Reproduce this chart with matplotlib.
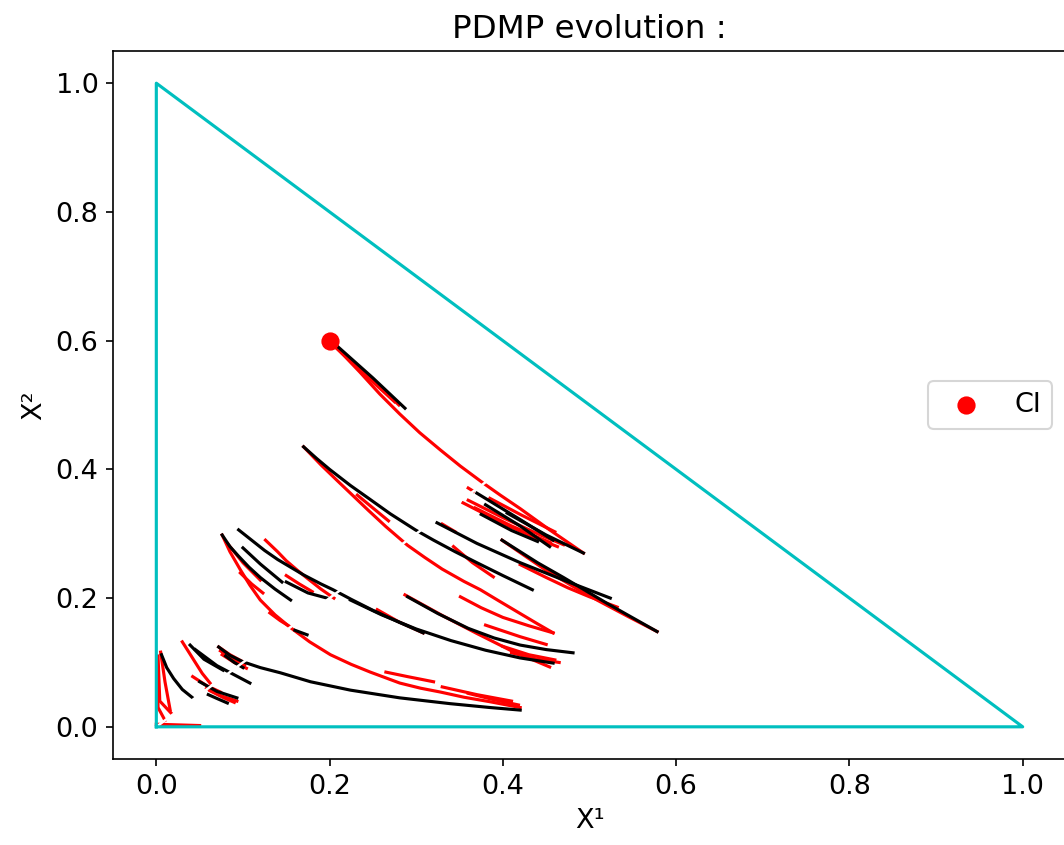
import numpy as np
import matplotlib
matplotlib.use("Agg")
import matplotlib.pyplot as plt

plt.rcParams["font.size"] = 13

# simplex border and the initial condition
simplex_x = [0.0, 1.0, 0.0, 0.0]
simplex_y = [0.0, 0.0, 1.0, 0.0]
ci_x, ci_y = [0.2], [0.6]
diag_x = [0.0, 0.5]
diag_y = [0.0, 0.5]

# trajectory pieces, (x, y) points per piece
red_paths = [
    # from the CI
    [(0.200, 0.600), (0.218, 0.575), (0.235, 0.551), (0.258, 0.517), (0.281, 0.486), (0.304, 0.457),
     (0.328, 0.430), (0.351, 0.405), (0.377, 0.379), (0.397, 0.360), (0.420, 0.339), (0.454, 0.306), (0.493, 0.270)],
    [(0.205, 0.592), (0.24, 0.548), (0.275, 0.505)],
    [(0.215, 0.580), (0.25, 0.538), (0.28, 0.500)],
    [(0.170, 0.435), (0.19, 0.407), (0.21, 0.381), (0.224, 0.363), (0.245, 0.336), (0.265, 0.311), (0.290, 0.282),
     (0.31, 0.263), (0.33, 0.245), (0.355, 0.226), (0.374, 0.213), (0.395, 0.196), (0.42, 0.176), (0.44, 0.160), (0.458, 0.146)],
    [(0.399, 0.290), (0.425, 0.266), (0.45, 0.243), (0.48, 0.219), (0.51, 0.196), (0.545, 0.171), (0.578, 0.148)],
    [(0.420, 0.252), (0.45, 0.232), (0.475, 0.216), (0.50, 0.202), (0.532, 0.186)],
    [(0.343, 0.280), (0.365, 0.255), (0.389, 0.233)],
    [(0.354, 0.348), (0.38, 0.330), (0.41, 0.310), (0.435, 0.295), (0.463, 0.280)],
    [(0.360, 0.352), (0.40, 0.325), (0.44, 0.300), (0.47, 0.283)],
    [(0.368, 0.340), (0.41, 0.312), (0.455, 0.286)],
    [(0.385, 0.355), (0.42, 0.330), (0.46, 0.303)],
    [(0.360, 0.371), (0.366, 0.366)],
    [(0.330, 0.315), (0.345, 0.303)],
    [(0.232, 0.360), (0.25, 0.340), (0.268, 0.320)],
    [(0.351, 0.202), (0.375, 0.185), (0.40, 0.170), (0.43, 0.157), (0.458, 0.146)],
    [(0.287, 0.205), (0.33, 0.173), (0.37, 0.145), (0.41, 0.118), (0.454, 0.093)],
    [(0.255, 0.182), (0.28, 0.163), (0.308, 0.146)],
    [(0.40, 0.125), (0.43, 0.112), (0.46, 0.104)],
    [(0.41, 0.115), (0.44, 0.105), (0.465, 0.100)],
    [(0.38, 0.158), (0.42, 0.140), (0.45, 0.128)],
    # lower left family
    [(0.076, 0.298), (0.085, 0.272), (0.097, 0.244), (0.108, 0.220), (0.120, 0.197), (0.137, 0.174), (0.155, 0.154),
     (0.177, 0.132), (0.201, 0.112), (0.225, 0.097), (0.247, 0.085), (0.281, 0.068), (0.305, 0.060), (0.328, 0.054),
     (0.355, 0.046), (0.385, 0.039), (0.420, 0.030)],
    [(0.126, 0.290), (0.14, 0.272), (0.15, 0.258), (0.163, 0.243), (0.175, 0.230), (0.19, 0.214), (0.205, 0.200)],
    [(0.082, 0.285), (0.10, 0.255), (0.12, 0.228)],
    [(0.097, 0.239), (0.11, 0.222), (0.123, 0.208)],
    [(0.131, 0.177), (0.143, 0.165), (0.155, 0.155)],
    [(0.150, 0.235), (0.165, 0.222), (0.18, 0.210)],
    [(0.265, 0.085), (0.29, 0.078), (0.32, 0.070)],
    [(0.33, 0.062), (0.37, 0.050), (0.41, 0.040)],
    [(0.36, 0.052), (0.39, 0.042), (0.418, 0.034)],
    [(0.030, 0.132), (0.038, 0.115), (0.045, 0.100), (0.053, 0.083), (0.062, 0.068)],
    [(0.072, 0.124), (0.085, 0.112), (0.100, 0.101)],
    [(0.074, 0.118), (0.09, 0.105), (0.102, 0.096)],
    [(0.076, 0.112), (0.09, 0.100), (0.104, 0.091)],
    [(0.042, 0.078), (0.058, 0.064), (0.074, 0.054)],
    [(0.058, 0.060), (0.075, 0.048), (0.093, 0.040)],
    [(0.062, 0.056), (0.078, 0.045), (0.090, 0.038)],
    [(0.005, 0.116), (0.010, 0.070), (0.016, 0.026)],
    [(0.002, 0.110), (0.004, 0.040), (0.018, 0.020)],
    [(0.001, 0.100), (0.002, 0.030), (0.010, 0.010)],
    [(0.000, 0.004), (0.025, 0.003), (0.050, 0.002)],
]

black_paths = [
    [(0.210, 0.590), (0.25, 0.542), (0.287, 0.495)],
    [(0.170, 0.435), (0.185, 0.417), (0.20, 0.400), (0.224, 0.375), (0.245, 0.355), (0.27, 0.331), (0.299, 0.306),
     (0.32, 0.290), (0.345, 0.272), (0.37, 0.255), (0.40, 0.235), (0.434, 0.213)],
    [(0.324, 0.317), (0.37, 0.285), (0.42, 0.255), (0.47, 0.228), (0.524, 0.200)],
    [(0.399, 0.290), (0.44, 0.255), (0.47, 0.232), (0.52, 0.192), (0.578, 0.148)],
    [(0.370, 0.363), (0.42, 0.322), (0.458, 0.290)],
    [(0.405, 0.332), (0.45, 0.298), (0.493, 0.270)],
    [(0.380, 0.345), (0.42, 0.312), (0.454, 0.280)],
    [(0.375, 0.330), (0.41, 0.305), (0.44, 0.288)],
    [(0.290, 0.202), (0.325, 0.176), (0.36, 0.153), (0.39, 0.138), (0.42, 0.127), (0.45, 0.120), (0.481, 0.115)],
    [(0.224, 0.197), (0.26, 0.174), (0.30, 0.152), (0.34, 0.134), (0.38, 0.119), (0.42, 0.107), (0.458, 0.099)],
    [(0.095, 0.306), (0.11, 0.290), (0.125, 0.274), (0.14, 0.260), (0.155, 0.248), (0.17, 0.236), (0.19, 0.222),
     (0.204, 0.213), (0.225, 0.198), (0.25, 0.181), (0.281, 0.162), (0.308, 0.146)],
    [(0.076, 0.298), (0.085, 0.280), (0.095, 0.265), (0.107, 0.248), (0.12, 0.232), (0.137, 0.214), (0.155, 0.197)],
    [(0.100, 0.278), (0.12, 0.253), (0.145, 0.225)],
    [(0.150, 0.225), (0.175, 0.208), (0.197, 0.200)],
    [(0.160, 0.150), (0.168, 0.146), (0.174, 0.143)],
    [(0.039, 0.127), (0.055, 0.105), (0.077, 0.088)],
    [(0.045, 0.120), (0.07, 0.095), (0.108, 0.068)],
    [(0.080, 0.110), (0.09, 0.100), (0.100, 0.092)],
    [(0.072, 0.124), (0.085, 0.111), (0.100, 0.101), (0.12, 0.092), (0.143, 0.084), (0.178, 0.070), (0.224, 0.057),
     (0.281, 0.045), (0.339, 0.036), (0.385, 0.030), (0.420, 0.026)],
    [(0.050, 0.070), (0.07, 0.055), (0.093, 0.045)],
    [(0.060, 0.050), (0.07, 0.044), (0.082, 0.037)],
    [(0.006, 0.112), (0.012, 0.092), (0.02, 0.075), (0.03, 0.058), (0.042, 0.045)],
]

fig = plt.figure(figsize=(1064 / 150, 845 / 150), dpi=150)
ax = fig.add_axes([113 / 1064, 86 / 845, 953 / 1064, 708 / 845])

for path in red_paths:
    xs, ys = zip(*path)
    ax.plot(xs, ys, color="red", lw=1.5)
for path in black_paths:
    xs, ys = zip(*path)
    ax.plot(xs, ys, color="black", lw=1.5)

ax.plot(diag_x, diag_y, color="white", lw=1.2)
ax.plot(simplex_x, simplex_y, color="c")
ax.scatter(ci_x, ci_y, color="red", s=60, zorder=5, label="CI")

ax.set_xlim(-0.05, 1.05)
ax.set_ylim(-0.05, 1.05)
ax.set_xlabel("X¹")
ax.set_ylabel("X²")
ax.set_title("PDMP evolution :")
ax.legend(loc="center right")

fig.savefig("out.png", dpi=150)
